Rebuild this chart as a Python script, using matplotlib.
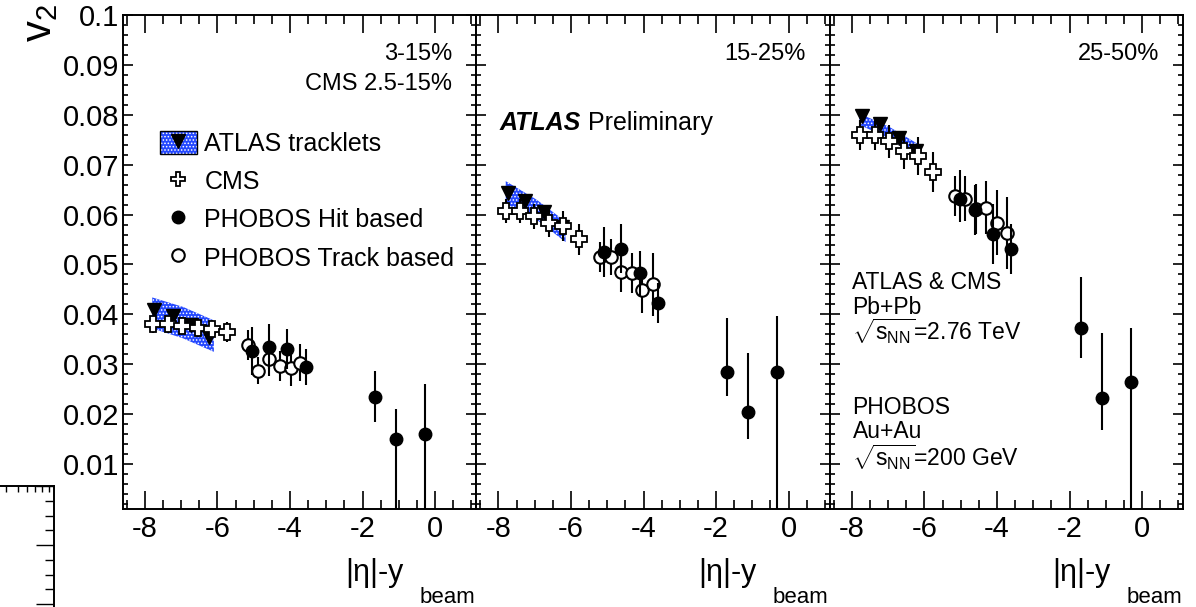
import matplotlib
matplotlib.use('Agg')
import matplotlib.pyplot as plt
from matplotlib.ticker import MultipleLocator, NullFormatter, LogLocator, NullLocator
from matplotlib.patches import Patch
from matplotlib.lines import Line2D
from matplotlib.legend_handler import HandlerTuple

plt.rcParams['font.family'] = ['Liberation Sans', 'DejaVu Sans']
plt.rcParams['mathtext.fontset'] = 'custom'
plt.rcParams['mathtext.rm'] = 'Liberation Sans'
plt.rcParams['mathtext.it'] = 'Liberation Sans:italic'
plt.rcParams['mathtext.bf'] = 'Liberation Sans:bold'
plt.rcParams['hatch.linewidth'] = 0.7

# ---------------- data ----------------
centralities = ['3-15%', '15-25%', '25-50%']

atlas_x = [[-7.74, -7.24, -6.73, -6.23],
           [-7.74, -7.26, -6.74, -6.25],
           [-7.72, -7.24, -6.70, -6.23]]
atlas_v2 = [[0.0408, 0.0397, 0.0378, 0.0355],
            [0.0643, 0.0627, 0.0605, 0.0575],
            [0.0797, 0.0781, 0.0753, 0.0727]]

band_x = [[-7.80, -6.95, -6.10],
          [-7.80, -6.95, -6.15],
          [-7.80, -6.95, -6.10]]
band_lo = [[0.0372, 0.0352, 0.0325],
           [0.0622, 0.0590, 0.0545],
           [0.0780, 0.0752, 0.0710]]
band_hi = [[0.0434, 0.0415, 0.0388],
           [0.0667, 0.0630, 0.0586],
           [0.0803, 0.0775, 0.0738]]

cms_x = [[-7.77, -7.37, -6.99, -6.55, -6.16, -5.75],
         [-7.79, -7.40, -7.01, -6.62, -6.21, -5.79],
         [-7.78, -7.37, -6.98, -6.57, -6.17, -5.76]]
cms_v2 = [[0.0380, 0.0380, 0.0377, 0.0372, 0.0370, 0.0365],
          [0.0607, 0.0607, 0.0597, 0.0583, 0.0578, 0.0551],
          [0.0760, 0.0760, 0.0747, 0.0727, 0.0718, 0.0685]]
cms_err = [[0.0017, 0.0017, 0.0017, 0.0017, 0.0018, 0.0020],
           [0.0024, 0.0024, 0.0025, 0.0027, 0.0030, 0.0031],
           [0.0030, 0.0030, 0.0033, 0.0035, 0.0038, 0.0040]]

hit_x = [[-5.04, -4.58, -4.07, -3.57, -1.66, -1.08, -0.28],
         [-5.08, -4.62, -4.11, -3.61, -1.70, -1.12, -0.32],
         [-5.03, -4.62, -4.11, -3.61, -1.69, -1.10, -0.31]]
hit_v2 = [[0.0327, 0.0335, 0.0331, 0.0295, 0.0235, 0.0150, 0.0161],
          [0.0525, 0.0532, 0.0482, 0.0422, 0.0285, 0.0205, 0.0285],
          [0.0631, 0.0610, 0.0561, 0.0531, 0.0373, 0.0232, 0.0265]]
hit_err_lo = [[0.0048, 0.0045, 0.0040, 0.0036, 0.0051, 0.0200, 0.0200],
              [0.0050, 0.0050, 0.0045, 0.0040, 0.0048, 0.0055, 0.0300],
              [0.0045, 0.0050, 0.0060, 0.0050, 0.0061, 0.0064, 0.0300]]
hit_err_hi = [[0.0048, 0.0045, 0.0040, 0.0036, 0.0052, 0.0061, 0.0100],
              [0.0050, 0.0050, 0.0045, 0.0040, 0.0108, 0.0118, 0.0112],
              [0.0059, 0.0050, 0.0060, 0.0050, 0.0102, 0.0130, 0.0108]]

track_x = [[-5.17, -4.87, -4.58, -4.28, -3.98, -3.72],
           [-5.21, -4.89, -4.62, -4.32, -4.05, -3.75],
           [-5.17, -4.89, -4.58, -4.30, -4.01, -3.72]]
track_v2 = [[0.0339, 0.0287, 0.0310, 0.0297, 0.0293, 0.0303],
            [0.0515, 0.0515, 0.0485, 0.0483, 0.0448, 0.0460],
            [0.0637, 0.0632, 0.0612, 0.0614, 0.0584, 0.0563]]
track_err = [[0.0030, 0.0027, 0.0033, 0.0030, 0.0037, 0.0037],
             [0.0030, 0.0037, 0.0040, 0.0041, 0.0045, 0.0064],
             [0.0040, 0.0045, 0.0050, 0.0053, 0.0065, 0.0072]]

x_ticks = [-8, -6, -4, -2, 0]
x_tick_labels = ['-8', '-6', '-4', '-2', '0']
y_ticks = [0.01, 0.02, 0.03, 0.04, 0.05, 0.06, 0.07, 0.08, 0.09, 0.1]
y_tick_labels = ['0.01', '0.02', '0.03', '0.04', '0.05', '0.06', '0.07', '0.08', '0.09', '0.1']

legend_labels = ['ATLAS tracklets', 'CMS', 'PHOBOS Hit based', 'PHOBOS Track based']

# ---------------- style ----------------
W, H = 1196, 607
BAND_FACE = '#2448ff'
TICK_FS = 21
fig = plt.figure(figsize=(W / 100, H / 100), dpi=100)

left0, panel_w, bottom_px, panel_h = 122.5, 353.5, 98, 494

axes = []
for i in range(3):
    ax = fig.add_axes([(left0 + i * panel_w) / W, bottom_px / H, panel_w / W, panel_h / H])
    axes.append(ax)

for i, ax in enumerate(axes):
    ax.fill_between(band_x[i], band_lo[i], band_hi[i], facecolor=BAND_FACE,
                    edgecolor='white', hatch='.....', linewidth=0, zorder=1)
    ax.plot(atlas_x[i], atlas_v2[i], linestyle='none', marker='v', ms=10,
            color='black', zorder=3)
    ax.errorbar(cms_x[i], cms_v2[i], yerr=cms_err[i], fmt='P', ms=11,
                mfc='white', mec='black', mew=1.3, ecolor='black',
                elinewidth=1.5, capsize=0, zorder=4)
    ax.errorbar(track_x[i], track_v2[i], yerr=track_err[i], fmt='o', ms=9,
                mfc='white', mec='black', mew=1.5, ecolor='black',
                elinewidth=1.5, capsize=0, zorder=5)
    ax.errorbar(hit_x[i], hit_v2[i], yerr=[hit_err_lo[i], hit_err_hi[i]], fmt='o',
                ms=9, mfc='black', mec='black', ecolor='black',
                elinewidth=1.5, capsize=0, zorder=6)

    ax.set_xlim(-8.62, 1.13)
    ax.set_ylim(0.001, 0.1)
    ax.set_xticks(x_ticks)
    ax.set_xticklabels(x_tick_labels, fontsize=TICK_FS)
    ax.xaxis.set_minor_locator(MultipleLocator(0.5))
    ax.set_yticks(y_ticks)
    ax.yaxis.set_minor_locator(MultipleLocator(0.002))
    if i == 0:
        ax.set_yticklabels(y_tick_labels, fontsize=TICK_FS)
    else:
        ax.set_yticklabels([])
    ax.tick_params(which='both', direction='in', top=True, right=True, width=1.2)
    ax.tick_params(axis='x', which='major', length=13, pad=4)
    ax.tick_params(axis='x', which='minor', length=6.5)
    ax.tick_params(axis='y', which='major', length=7, pad=2.5)
    ax.tick_params(axis='y', which='minor', length=3.5)
    for sp in ax.spines.values():
        sp.set_linewidth(1.4)

    # x-axis title
    ax.annotate(r'$\mathregular{|\eta|}$-y', xy=(1, 0), xycoords='axes fraction',
                xytext=(-71, -72), textcoords='offset pixels',
                ha='right', va='baseline', fontsize=22)
    ax.annotate('beam', xy=(1, 0), xycoords='axes fraction',
                xytext=(-1, -94), textcoords='offset pixels',
                ha='right', va='baseline', fontsize=16)

    # centrality label
    ax.text(1 - 24 / panel_w, 1 - 39 / panel_h, centralities[i], transform=ax.transAxes,
            ha='right', va='center', fontsize=17)

axes[0].text(1 - 24 / panel_w, 1 - 69 / panel_h, 'CMS 2.5-15%', transform=axes[0].transAxes,
             ha='right', va='center', fontsize=17)

# ATLAS Preliminary
t_atlas = axes[1].text(24 / panel_w, 1 - 108 / panel_h, 'ATLAS', transform=axes[1].transAxes,
                       ha='left', va='center', fontsize=18, fontweight='bold',
                       fontstyle='italic')
axes[1].annotate('Preliminary', xy=(1, 0.5), xycoords=t_atlas, xytext=(7, 0),
                 textcoords='offset pixels', ha='left', va='center', fontsize=18)

# info text in panel 3
info_lines = [('ATLAS & CMS', 267), ('Pb+Pb', 292),
              (r'$\sqrt{\mathrm{s}_{\mathrm{NN}}}$=2.76 TeV', 316),
              ('PHOBOS', 392), ('Au+Au', 417),
              (r'$\sqrt{\mathrm{s}_{\mathrm{NN}}}$=200 GeV', 442)]
for txt, ypx in info_lines:
    axes[2].text(23 / panel_w, 1 - ypx / panel_h, txt, transform=axes[2].transAxes,
                 ha='left', va='center', fontsize=16.5)

# legend
h_band = Patch(facecolor=BAND_FACE, edgecolor='white', hatch='.....', linewidth=0)
h_border = Patch(facecolor='none', edgecolor='black', linewidth=1.0)
h_tri = Line2D([], [], linestyle='none', marker='v', ms=10, color='black')
h_cms = Line2D([], [], linestyle='none', marker='P', ms=10, mfc='white', mec='black', mew=1.3)
h_hit = Line2D([], [], linestyle='none', marker='o', ms=9, mfc='black', mec='black')
h_trk = Line2D([], [], linestyle='none', marker='o', ms=9, mfc='white', mec='black', mew=1.5)
axes[0].legend([(h_band, h_border, h_tri), h_cms, h_hit, h_trk], legend_labels,
               handler_map={tuple: HandlerTuple(ndivide=1, pad=0)},
               loc='upper left', bbox_to_anchor=(37 / panel_w, 1 - 116 / panel_h),
               borderaxespad=0, borderpad=0, frameon=False, fontsize=18,
               handlelength=1.5, handleheight=1.05, handletextpad=0.3,
               labelspacing=0.52)

# y-axis title
fig.text(40 / W, 1 - 4 / H, r'v$_{\mathregular{2}}$', rotation=90, ha='center', va='top',
         fontsize=30)

# partial frame remnant at lower left
axr = fig.add_axes([0, 0, 54 / W, 121 / H])
axr.set_facecolor('none')
axr.set_xscale('log')
axr.set_xlim(3.55, 10)
axr.set_ylim(-0.05, 2)
axr.spines['left'].set_visible(False)
axr.spines['bottom'].set_visible(False)
axr.spines['top'].set_linewidth(1.4)
axr.spines['right'].set_linewidth(1.4)
axr.xaxis.set_major_locator(NullLocator())
axr.xaxis.set_minor_locator(LogLocator(subs=range(2, 10)))
axr.xaxis.set_minor_formatter(NullFormatter())
axr.yaxis.set_major_locator(MultipleLocator(1))
axr.yaxis.set_minor_locator(MultipleLocator(0.25))
axr.tick_params(which='both', direction='in', top=True, bottom=False, left=False, right=True,
                labelbottom=False, labelleft=False, width=1.0)
axr.tick_params(axis='x', which='minor', length=4)
axr.tick_params(axis='y', which='major', length=13)
axr.tick_params(axis='y', which='minor', length=6.5)

fig.savefig('out.png', dpi=100)
